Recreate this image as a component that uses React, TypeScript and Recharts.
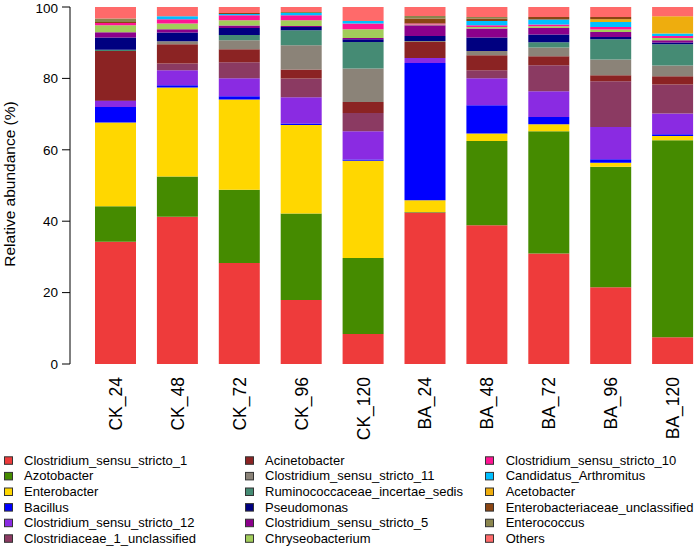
import React from 'react';
import { BarChart, Bar, XAxis, YAxis } from 'recharts';

const categories = ['CK_24', 'CK_48', 'CK_72', 'CK_96', 'CK_120', 'BA_24', 'BA_48', 'BA_72', 'BA_96', 'BA_120'];

const clostridium1 = [34.23, 41.23, 28.27, 17.91, 8.40, 42.46, 38.90, 30.98, 21.47, 7.47];
const azotobacter = [9.99, 11.30, 20.51, 24.27, 21.27, 0.15, 23.60, 34.22, 33.75, 55.22];
const enterobacter = [23.43, 24.91, 25.30, 24.79, 27.23, 3.29, 2.07, 1.97, 1.12, 1.21];
const bacillus = [4.36, 0.65, 0.93, 0.40, 0.39, 38.43, 7.92, 2.04, 1.03, 0.47];
const clostridium12 = [1.68, 4.19, 5.03, 7.36, 7.91, 1.40, 7.55, 7.20, 9.04, 5.80];
const clostridiaceae1 = [0.26, 1.88, 4.48, 5.23, 5.13, 0, 2.24, 7.27, 12.80, 8.11];
const acinetobacter = [13.74, 5.40, 3.64, 2.52, 3.08, 4.47, 4.20, 2.52, 1.67, 2.32];
const clostridium11 = [0, 0.84, 2.52, 6.80, 9.35, 0.30, 1.21, 2.44, 4.40, 3.00];
const ruminococcaceae = [0.31, 0, 1.48, 4.20, 7.44, 0, 0, 1.48, 5.68, 5.96];
const pseudomonas = [3.44, 2.44, 1.96, 0.92, 0.76, 1.38, 3.75, 2.16, 0.64, 0.48];
const clostridium5 = [1.48, 0.92, 0.67, 0.28, 0.36, 3.00, 2.51, 1.84, 1.40, 0.64];
const chryseobacterium = [1.96, 1.59, 1.49, 1.60, 2.44, 0.22, 0.45, 0.48, 0.67, 0.64];
const clostridium10 = [0.64, 1.21, 1.40, 1.40, 1.59, 0.25, 0.48, 0.47, 0.73, 0.56];
const candidatus = [0, 0.84, 0.37, 0.65, 0.73, 0, 1.20, 1.40, 1.40, 0.68];
const acetobacter = [0, 0, 0, 0, 0, 0, 0, 0, 0.76, 4.84];
const enterobacteriaceae = [0.28, 0, 0.28, 0, 0, 1.40, 0.67, 0.73, 0.64, 0];
const enterococcus = [0.95, 0, 0, 0.25, 0, 0.73, 0.45, 0, 0, 0];
const others = [3.25, 2.60, 1.67, 1.42, 3.92, 2.52, 2.80, 2.80, 2.80, 2.60];

const seriesNames = [
  'Clostridium_sensu_stricto_1',
  'Azotobacter',
  'Enterobacter',
  'Bacillus',
  'Clostridium_sensu_stricto_12',
  'Clostridiaceae_1_unclassified',
  'Acinetobacter',
  'Clostridium_sensu_stricto_11',
  'Ruminococcaceae_incertae_sedis',
  'Pseudomonas',
  'Clostridium_sensu_stricto_5',
  'Chryseobacterium',
  'Clostridium_sensu_stricto_10',
  'Candidatus_Arthromitus',
  'Acetobacter',
  'Enterobacteriaceae_unclassified',
  'Enterococcus',
  'Others',
];

const seriesValues = [
  clostridium1, azotobacter, enterobacter, bacillus, clostridium12, clostridiaceae1,
  acinetobacter, clostridium11, ruminococcaceae, pseudomonas, clostridium5, chryseobacterium,
  clostridium10, candidatus, acetobacter, enterobacteriaceae, enterococcus, others,
];

const seriesColors = [
  '#EE3B3B', '#458B00', '#FFD700', '#0000FF', '#8A2BE2', '#8B3A62',
  '#8B2323', '#8B8378', '#458B74', '#000080', '#8B008B', '#A2CD5A',
  '#FF1493', '#00BFFF', '#EEAD0E', '#8B4513', '#8B864E', '#FF6A6A',
];

const yTicks = [0, 20, 40, 60, 80, 100];

const rows = categories.map((cat, i) => {
  const row: Record<string, any> = { cat };
  seriesNames.forEach((name, s) => {
    row[name] = seriesValues[s][i];
  });
  return row;
});

const FONT = '"Liberation Sans", Arial, Helvetica, sans-serif';

const XTick = (props: any) => {
  const { x, y, payload } = props;
  return (
    <text
      transform={`translate(${x + 6},${y + 5}) rotate(-90)`}
      textAnchor="end"
      fontSize={17.5}
      fontFamily={FONT}
      fill="#000"
    >
      {payload.value}
    </text>
  );
};

export default function App() {
  const rowsPerCol = 6;
  const colSwatchX = [4, 245, 485];
  const colTextX = [24, 265, 505.7];
  const rowY0 = 460.3;
  const rowStep = 15.6;
  return (
    <div
      style={{
        position: 'absolute',
        left: 0,
        top: 0,
        width: 697,
        height: 547,
        overflow: 'hidden',
        background: '#fff',
        fontFamily: FONT,
      }}
    >
      <BarChart
        width={710}
        height={547}
        data={rows}
        margin={{ top: 7, right: 6, bottom: 0, left: 0 }}
        barSize={41}
      >
        <XAxis
          dataKey="cat"
          axisLine={false}
          tickLine={false}
          height={183}
          interval={0}
          padding={{ left: 15, right: 0 }}
          tick={<XTick />}
        />
        <YAxis
          type="number"
          domain={[0, 100]}
          ticks={yTicks}
          width={70}
          tickSize={8}
          tickMargin={4}
          axisLine={{ stroke: '#000', strokeWidth: 1 }}
          tickLine={{ stroke: '#000', strokeWidth: 1 }}
          tick={{ fontSize: 13.5, fill: '#000', fontFamily: FONT }}
          allowDataOverflow
        />
        {seriesNames.map((name, s) => (
          <Bar
            key={name}
            dataKey={name}
            stackId="a"
            fill={seriesColors[s]}
            isAnimationActive={false}
          />
        ))}
      </BarChart>
      <svg
        width={697}
        height={547}
        style={{ position: 'absolute', left: 0, top: 0, pointerEvents: 'none' }}
      >
        <text
          transform="translate(15,184) rotate(-90)"
          textAnchor="middle"
          fontSize={15.5}
          fontFamily={FONT}
          fill="#000"
        >
          Relative abundance (%)
        </text>
        {seriesNames.map((name, s) => {
          const col = Math.floor(s / rowsPerCol);
          const row = s % rowsPerCol;
          const cy = rowY0 + row * rowStep;
          return (
            <g key={name}>
              <rect
                x={colSwatchX[col] + 0.5}
                y={cy - 3.5}
                width={8}
                height={7.5}
                fill={seriesColors[s]}
                stroke="#333"
                strokeWidth={1}
              />
              <text
                x={colTextX[col]}
                y={cy}
                dominantBaseline="central"
                fontSize={13}
                fontFamily={FONT}
                fill="#000"
              >
                {name}
              </text>
            </g>
          );
        })}
      </svg>
    </div>
  );
}
